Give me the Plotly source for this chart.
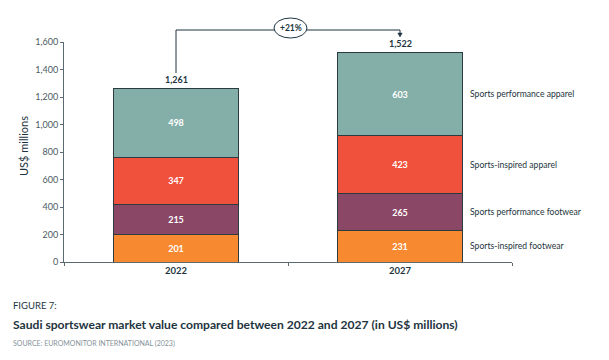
import plotly.graph_objects as go

years = ["2022", "2027"]
series_names = ["Sports-inspired footwear", "Sports performance footwear",
                "Sports-inspired apparel", "Sports performance apparel"]
series_values = [
    [201, 231],
    [215, 265],
    [347, 423],
    [498, 603],
]
totals = [1261, 1522]
growth_label = "+21%"
colors = ["#F78A31", "#8B4766", "#F0513C", "#84AFA9"]

DARK = "#1d3440"
FONT = "Lato"

# page offset (browser body margin) and target plot area in page pixels
OFF = 7
X0, X1, Y0, Y1 = 63, 511, 41, 261
W, H = X1 - X0, Y1 - Y0
def px(xp): return (xp - X0) / W
def py(yp): return (Y1 - yp) / H

fig = go.Figure()
for name, vals, col in zip(series_names, series_values, colors):
    fig.add_trace(go.Bar(
        x=years, y=vals, name=name,
        marker=dict(color=col, line=dict(color="#2b3b42", width=1)),
        text=[f"<b>{v}</b>" for v in vals], textposition="inside",
        insidetextanchor="middle",
        textfont=dict(color="white", size=9, family=FONT),
        showlegend=False,
    ))

# totals (category axis annotations use the category index)
for i, tot in enumerate(totals):
    fig.add_annotation(x=i, y=tot, xref="x", yref="y", text=f"<b>{tot:,}</b>",
                       showarrow=False, xanchor="center", yanchor="bottom", yshift=2,
                       font=dict(size=9, color=DARK, family=FONT))

# right-side series labels at 2027 segment centers
cum = 0
for name, vals in zip(series_names, series_values):
    mid = cum + vals[1] / 2
    cum += vals[1]
    fig.add_annotation(x=px(467), y=mid, xref="paper", yref="y", text=name,
                       showarrow=False, xanchor="left", yanchor="middle",
                       font=dict(size=8.6, color=DARK, family=FONT))

# growth bracket (paper coords; categories centred at 1/4 and 3/4 of axis)
top = py(29)
xa, xb = 0.25, 0.75
fig.add_shape(type="line", xref="paper", yref="paper", x0=xa, x1=xa,
              y0=py(72), y1=top, line=dict(color=DARK, width=1))
fig.add_shape(type="line", xref="paper", yref="paper", x0=xa, x1=xb,
              y0=top, y1=top, line=dict(color=DARK, width=1))
fig.add_shape(type="line", xref="paper", yref="paper", x0=xb, x1=xb,
              y0=top, y1=py(33), line=dict(color=DARK, width=1))
fig.add_shape(type="path", xref="paper", yref="paper",
              path=f"M {xb - 2.2/W},{py(32)} L {xb + 2.2/W},{py(32)} L {xb},{py(36)} Z",
              fillcolor=DARK, line=dict(color=DARK, width=0.5))
fig.add_shape(type="circle", xref="paper", yref="paper",
              x0=px(273), x1=px(306), y0=py(37), y1=py(17),
              line=dict(color=DARK, width=1), fillcolor="white")
fig.add_annotation(x=px(289.5), y=py(27), xref="paper", yref="paper",
                   text=f"<b>{growth_label}</b>", showarrow=False,
                   xanchor="center", yanchor="middle",
                   font=dict(size=8.5, color=DARK, family=FONT))

# titles
fig.add_annotation(x=px(10), y=py(304), xref="paper", yref="paper", text="FIGURE 7:",
                   showarrow=False, xanchor="left", yanchor="middle",
                   font=dict(size=9.5, color=DARK, family=FONT))
fig.add_annotation(x=px(10), y=py(323), xref="paper", yref="paper",
                   text="<b>Saudi sportswear market value compared between 2022 and 2027 (in US$ millions)</b>",
                   showarrow=False, xanchor="left", yanchor="middle",
                   font=dict(size=12.1, color=DARK, family=FONT))
fig.add_annotation(x=px(10), y=py(342), xref="paper", yref="paper",
                   text="SOURCE: EUROMONITOR INTERNATIONAL (2023)",
                   showarrow=False, xanchor="left", yanchor="middle",
                   font=dict(size=7, color="#86929a", family=FONT))

fig.add_annotation(x=px(22), y=py(145), xref="paper", yref="paper",
                   text="US$ millions", textangle=-90, showarrow=False,
                   xanchor="center", yanchor="middle",
                   font=dict(size=11, color=DARK, family=FONT))

fig.update_layout(
    width=609, height=360,
    margin=dict(l=X0 - OFF, r=609 + OFF - X1, t=Y0 - OFF, b=360 + OFF - Y1,
                autoexpand=False),
    barmode="stack", bargap=0.446,
    plot_bgcolor="white", paper_bgcolor="white",
    font=dict(family=FONT, color=DARK),
    xaxis=dict(type="category", range=[-0.5, 1.5], showline=True,
               linecolor="#5a6a70", linewidth=1,
               ticks="outside", tickson="boundaries", ticklen=3,
               tickcolor="#5a6a70", showgrid=False,
               tickfont=dict(size=9.5, color=DARK, family=FONT, weight="bold")),
    yaxis=dict(range=[0, 1600], dtick=200, tickformat=",", showline=True,
               linecolor="#5a6a70", linewidth=1, ticks="outside", ticklen=3,
               tickcolor="#5a6a70", showgrid=False, zeroline=False,
               tickfont=dict(size=9, color="#4a5a62", family=FONT)),
)

fig.write_html("out.html")
